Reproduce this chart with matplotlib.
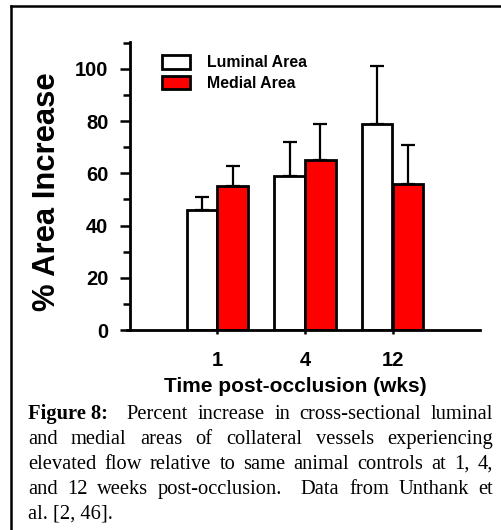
import numpy as np
import matplotlib
matplotlib.use("Agg")
import matplotlib.pyplot as plt
from matplotlib.patches import Patch
from matplotlib.lines import Line2D

# data
weeks = ["1", "4", "12"]
luminal = [46, 59, 79]
luminal_err = [5, 13, 22]
medial = [55, 65, 56]
medial_err = [8, 14, 15]

caption_lines = [
    [("Figure 8:", True, 0), ("Percent", False, 2), ("increase", False, 1), ("in", False, 1),
     ("cross-sectional", False, 1), ("luminal", False, 1)],
    [("and", False, 0), ("medial", False, 1), ("areas", False, 1), ("of", False, 1),
     ("collateral", False, 1), ("vessels", False, 1), ("experiencing", False, 1)],
    [("elevated", False, 0), ("flow", False, 1), ("relative", False, 1), ("to", False, 1),
     ("same", False, 1), ("animal", False, 1), ("controls", False, 1), ("at", False, 1),
     ("1,", False, 1), ("4,", False, 1)],
    [("and", False, 0), ("12", False, 1), ("weeks", False, 1), ("post-occlusion.", False, 1),
     ("Data", False, 2), ("from", False, 1), ("Unthank", False, 1), ("et", False, 1)],
    [("al. [2, 46].", False, 0)],
]

W, H = 502, 530
SANS = "Liberation Sans"
SERIF = "Liberation Serif"

fig = plt.figure(figsize=(W / 100, H / 100), dpi=100)
fig.patch.set_facecolor("white")

# outer frame (top and left edges visible, rest clipped)
fig.add_artist(Line2D([11 / W, 1.0], [1 - 6 / H, 1 - 6 / H], color="black", lw=1.8,
                      transform=fig.transFigure))
fig.add_artist(Line2D([11 / W, 11 / W], [0.0, 1 - 6 / H], color="black", lw=1.8,
                      transform=fig.transFigure))

ax = fig.add_axes([130 / W, 1 - 330 / H, 350 / W, 288 / H])
x = np.arange(1, len(weeks) + 1)
w = 0.35
ekw = dict(ecolor="black", elinewidth=1.6, capsize=5, capthick=1.6)
ax.bar(x - w / 2, luminal, w, color="white", edgecolor="black", linewidth=2.0,
       yerr=[np.zeros(3), luminal_err], error_kw=ekw, zorder=2)
ax.bar(x + w / 2, medial, w, color="#ff0000", edgecolor="black", linewidth=2.0,
       yerr=[np.zeros(3), medial_err], error_kw=ekw, zorder=2)

ax.set_xlim(0, 4)
ax.set_ylim(0, 110.3)
ax.set_xticks(x)
ax.set_xticklabels(weeks)
ax.set_yticks([0, 20, 40, 60, 80, 100])
ax.set_yticks([10, 30, 50, 70, 90, 110], minor=True)
ax.spines["top"].set_visible(False)
ax.spines["right"].set_visible(False)
ax.spines["left"].set_linewidth(2.0)
ax.spines["bottom"].set_linewidth(2.0)
ax.spines["bottom"].set_bounds(-0.03, 4)
ax.tick_params(axis="y", which="major", length=7.5, width=1.8, pad=8)
ax.tick_params(axis="y", which="minor", length=5, width=1.8)
ax.tick_params(axis="x", which="major", length=3, width=1.8, pad=12)
for lab in ax.get_xticklabels() + ax.get_yticklabels():
    lab.set_fontfamily(SANS)
    lab.set_fontweight("bold")
    lab.set_fontsize(14.5)

handles = [Patch(facecolor="white", edgecolor="black", linewidth=2.0),
           Patch(facecolor="#ff0000", edgecolor="black", linewidth=2.0)]
ax.legend(handles, ["Luminal Area", "Medial Area"], loc="upper left",
          bbox_to_anchor=(162 / W, 1 - 55 / H), bbox_transform=fig.transFigure,
          frameon=False, borderpad=0, borderaxespad=0, handlelength=1.77,
          handleheight=0.95, handletextpad=1.1, labelspacing=0.35,
          prop=dict(family=SANS, weight="bold", size=11.4))

fig.text(47 / W, 1 - 192 / H, "% Area Increase", rotation=90, ha="center", va="center",
         fontfamily=SANS, fontweight="bold", fontsize=22.3)
fig.text(295 / W, 1 - 392 / H, "Time post-occlusion (wks)", ha="center", va="baseline",
         fontfamily=SANS, fontweight="bold", fontsize=15)

# justified caption
left, right = 28, 493
baselines = [419, 444, 469, 494, 519]
renderer = fig.canvas.get_renderer()
for line, base in zip(caption_lines, baselines):
    texts = []
    for word, bold, gap in line:
        t = fig.text(0, 1 - base / H, word, ha="left", va="baseline", fontfamily=SERIF,
                     fontsize=14.8, fontweight="bold" if bold else "normal")
        texts.append((t, t.get_window_extent(renderer).width, gap))
    total = sum(wd for _, wd, _ in texts)
    gaps = sum(g for _, _, g in texts)
    justify = line is not caption_lines[-1] and gaps > 0
    unit = (right - left - total) / gaps if justify else 0
    pos = left
    for t, wd, gap in texts:
        pos += gap * unit
        t.set_x(pos / W)
        pos += wd

fig.savefig("out.png", dpi=100, facecolor="white")
